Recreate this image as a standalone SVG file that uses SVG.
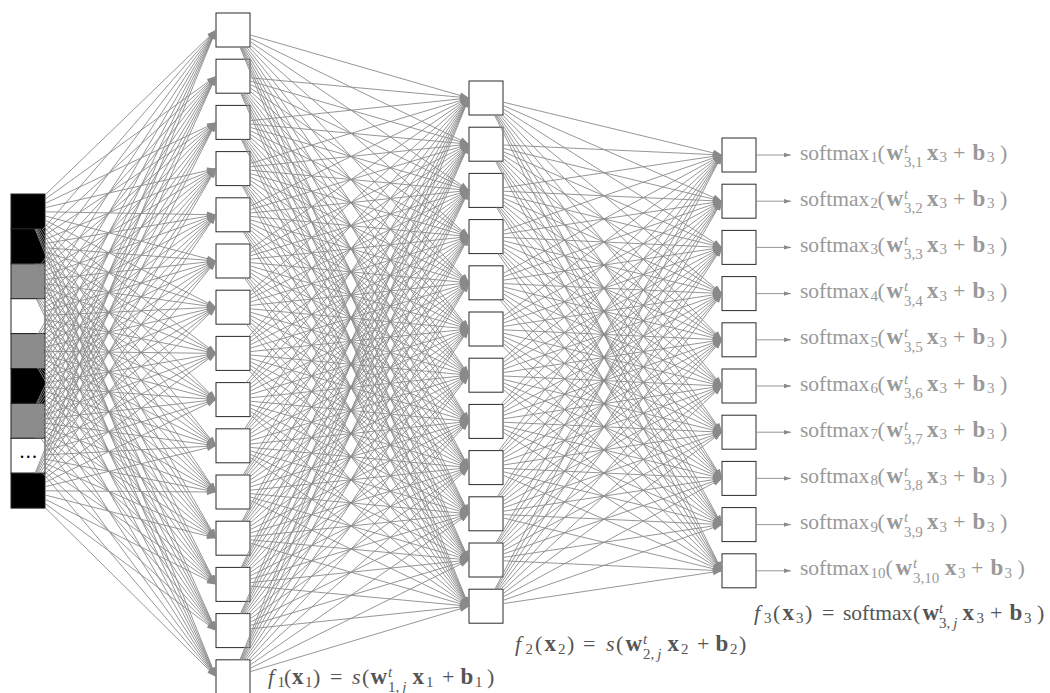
<svg xmlns="http://www.w3.org/2000/svg" width="1050" height="693" viewBox="0 0 1050 693">
<style>
.box{fill:#fff;stroke:#2a2a2a;stroke-width:1}
.cell{stroke:#222;stroke-width:1}
.e path{fill:none;stroke:#8a8a8a;stroke-width:0.9;marker-end:url(#ah)}
.o path{fill:none;stroke:#8a8a8a;stroke-width:0.9;marker-end:url(#ah2)}
text{font-family:'Liberation Serif','Times New Roman',serif}
.lab{font-size:22px;fill:#999}
.flab{font-size:22px;fill:#555}
.sm{font-size:21.5px}
.s{font-size:15px}
.b{font-weight:bold;font-size:23px}
.i{font-style:italic}
</style>
<defs>
<marker id="ah" viewBox="0 0 9 7" refX="9" refY="3.5" markerWidth="9" markerHeight="7" markerUnits="userSpaceOnUse" orient="auto" overflow="visible"><path d="M0 0.4L9 3.5L0 6.6Z" fill="#8a8a8a"/></marker>
<marker id="ah2" viewBox="0 0 7 5" refX="7" refY="2.5" markerWidth="7" markerHeight="5" markerUnits="userSpaceOnUse" orient="auto" overflow="visible"><path d="M0 0.3L7 2.5L0 4.7Z" fill="#8a8a8a"/></marker>
<clipPath id="ci1"><path clip-rule="evenodd" d="M0 0H1050V693H0ZM11 194h34v34.9H11Z"/></clipPath>
<clipPath id="ci2"><path clip-rule="evenodd" d="M0 0H1050V693H0ZM11 228.9h34v34.9H11Z"/></clipPath>
<clipPath id="ci3"><path clip-rule="evenodd" d="M0 0H1050V693H0ZM11 263.8h34v34.9H11Z"/></clipPath>
<clipPath id="ci4"><path clip-rule="evenodd" d="M0 0H1050V693H0ZM11 298.7h34v34.9H11Z"/></clipPath>
<clipPath id="ci5"><path clip-rule="evenodd" d="M0 0H1050V693H0ZM11 333.6h34v34.9H11Z"/></clipPath>
<clipPath id="ci6"><path clip-rule="evenodd" d="M0 0H1050V693H0ZM11 368.5h34v34.9H11Z"/></clipPath>
<clipPath id="ci7"><path clip-rule="evenodd" d="M0 0H1050V693H0ZM11 403.4h34v34.9H11Z"/></clipPath>
<clipPath id="ci8"><path clip-rule="evenodd" d="M0 0H1050V693H0ZM11 438.3h34v34.9H11Z"/></clipPath>
<clipPath id="ci9"><path clip-rule="evenodd" d="M0 0H1050V693H0ZM11 473.2h34v34.9H11Z"/></clipPath>
<clipPath id="cl1"><path clip-rule="evenodd" d="M0 0H1050V693H0ZM216 13h34v34H216Z"/></clipPath>
<clipPath id="cl2"><path clip-rule="evenodd" d="M0 0H1050V693H0ZM216 59.2h34v34H216Z"/></clipPath>
<clipPath id="cl3"><path clip-rule="evenodd" d="M0 0H1050V693H0ZM216 105.4h34v34H216Z"/></clipPath>
<clipPath id="cl4"><path clip-rule="evenodd" d="M0 0H1050V693H0ZM216 151.6h34v34H216Z"/></clipPath>
<clipPath id="cl5"><path clip-rule="evenodd" d="M0 0H1050V693H0ZM216 197.8h34v34H216Z"/></clipPath>
<clipPath id="cl6"><path clip-rule="evenodd" d="M0 0H1050V693H0ZM216 244h34v34H216Z"/></clipPath>
<clipPath id="cl7"><path clip-rule="evenodd" d="M0 0H1050V693H0ZM216 290.2h34v34H216Z"/></clipPath>
<clipPath id="cl8"><path clip-rule="evenodd" d="M0 0H1050V693H0ZM216 336.4h34v34H216Z"/></clipPath>
<clipPath id="cl9"><path clip-rule="evenodd" d="M0 0H1050V693H0ZM216 382.6h34v34H216Z"/></clipPath>
<clipPath id="cl10"><path clip-rule="evenodd" d="M0 0H1050V693H0ZM216 428.8h34v34H216Z"/></clipPath>
<clipPath id="cl11"><path clip-rule="evenodd" d="M0 0H1050V693H0ZM216 475h34v34H216Z"/></clipPath>
<clipPath id="cl12"><path clip-rule="evenodd" d="M0 0H1050V693H0ZM216 521.2h34v34H216Z"/></clipPath>
<clipPath id="cl13"><path clip-rule="evenodd" d="M0 0H1050V693H0ZM216 567.4h34v34H216Z"/></clipPath>
<clipPath id="cl14"><path clip-rule="evenodd" d="M0 0H1050V693H0ZM216 613.6h34v34H216Z"/></clipPath>
<clipPath id="cl15"><path clip-rule="evenodd" d="M0 0H1050V693H0ZM216 659.8h34v34H216Z"/></clipPath>
<clipPath id="cm1"><path clip-rule="evenodd" d="M0 0H1050V693H0ZM469 81h34v34H469Z"/></clipPath>
<clipPath id="cm2"><path clip-rule="evenodd" d="M0 0H1050V693H0ZM469 127.2h34v34H469Z"/></clipPath>
<clipPath id="cm3"><path clip-rule="evenodd" d="M0 0H1050V693H0ZM469 173.4h34v34H469Z"/></clipPath>
<clipPath id="cm4"><path clip-rule="evenodd" d="M0 0H1050V693H0ZM469 219.6h34v34H469Z"/></clipPath>
<clipPath id="cm5"><path clip-rule="evenodd" d="M0 0H1050V693H0ZM469 265.8h34v34H469Z"/></clipPath>
<clipPath id="cm6"><path clip-rule="evenodd" d="M0 0H1050V693H0ZM469 312h34v34H469Z"/></clipPath>
<clipPath id="cm7"><path clip-rule="evenodd" d="M0 0H1050V693H0ZM469 358.2h34v34H469Z"/></clipPath>
<clipPath id="cm8"><path clip-rule="evenodd" d="M0 0H1050V693H0ZM469 404.4h34v34H469Z"/></clipPath>
<clipPath id="cm9"><path clip-rule="evenodd" d="M0 0H1050V693H0ZM469 450.6h34v34H469Z"/></clipPath>
<clipPath id="cm10"><path clip-rule="evenodd" d="M0 0H1050V693H0ZM469 496.8h34v34H469Z"/></clipPath>
<clipPath id="cm11"><path clip-rule="evenodd" d="M0 0H1050V693H0ZM469 543h34v34H469Z"/></clipPath>
<clipPath id="cm12"><path clip-rule="evenodd" d="M0 0H1050V693H0ZM469 589.2h34v34H469Z"/></clipPath>
</defs>
<rect width="1050" height="693" fill="#fff"/>

<g id="input">
<g id="in1"><rect class="cell" x="11" y="194" width="34" height="34.9" fill="#000"/></g>
<g id="in2"><rect class="cell" x="11" y="228.9" width="34" height="34.9" fill="#000"/></g>
<g id="in3"><rect class="cell" x="11" y="263.8" width="34" height="34.9" fill="#8c8c8c"/></g>
<g id="in4"><rect class="cell" x="11" y="298.7" width="34" height="34.9" fill="#fff"/></g>
<g id="in5"><rect class="cell" x="11" y="333.6" width="34" height="34.9" fill="#8c8c8c"/></g>
<g id="in6"><rect class="cell" x="11" y="368.5" width="34" height="34.9" fill="#000"/></g>
<g id="in7"><rect class="cell" x="11" y="403.4" width="34" height="34.9" fill="#8c8c8c"/></g>
<g id="in8"><rect class="cell" x="11" y="438.3" width="34" height="34.9" fill="#fff"/><text x="19.5" y="458" style="font-size:20px;letter-spacing:1.3px" fill="#000">...</text></g>
<g id="in9"><rect class="cell" x="11" y="473.2" width="34" height="34.9" fill="#000"/></g>
</g>

<g id="layer1">
<g id="h1"><rect class="box" x="216" y="13" width="34" height="34"/></g>
<g id="h2"><rect class="box" x="216" y="59.2" width="34" height="34"/></g>
<g id="h3"><rect class="box" x="216" y="105.4" width="34" height="34"/></g>
<g id="h4"><rect class="box" x="216" y="151.6" width="34" height="34"/></g>
<g id="h5"><rect class="box" x="216" y="197.8" width="34" height="34"/></g>
<g id="h6"><rect class="box" x="216" y="244" width="34" height="34"/></g>
<g id="h7"><rect class="box" x="216" y="290.2" width="34" height="34"/></g>
<g id="h8"><rect class="box" x="216" y="336.4" width="34" height="34"/></g>
<g id="h9"><rect class="box" x="216" y="382.6" width="34" height="34"/></g>
<g id="h10"><rect class="box" x="216" y="428.8" width="34" height="34"/></g>
<g id="h11"><rect class="box" x="216" y="475" width="34" height="34"/></g>
<g id="h12"><rect class="box" x="216" y="521.2" width="34" height="34"/></g>
<g id="h13"><rect class="box" x="216" y="567.4" width="34" height="34"/></g>
<g id="h14"><rect class="box" x="216" y="613.6" width="34" height="34"/></g>
<g id="h15"><rect class="box" x="216" y="659.8" width="34" height="34"/></g>
</g>

<g id="layer2">
<g id="m1"><rect class="box" x="469" y="81" width="34" height="34"/></g>
<g id="m2"><rect class="box" x="469" y="127.2" width="34" height="34"/></g>
<g id="m3"><rect class="box" x="469" y="173.4" width="34" height="34"/></g>
<g id="m4"><rect class="box" x="469" y="219.6" width="34" height="34"/></g>
<g id="m5"><rect class="box" x="469" y="265.8" width="34" height="34"/></g>
<g id="m6"><rect class="box" x="469" y="312" width="34" height="34"/></g>
<g id="m7"><rect class="box" x="469" y="358.2" width="34" height="34"/></g>
<g id="m8"><rect class="box" x="469" y="404.4" width="34" height="34"/></g>
<g id="m9"><rect class="box" x="469" y="450.6" width="34" height="34"/></g>
<g id="m10"><rect class="box" x="469" y="496.8" width="34" height="34"/></g>
<g id="m11"><rect class="box" x="469" y="543" width="34" height="34"/></g>
<g id="m12"><rect class="box" x="469" y="589.2" width="34" height="34"/></g>
</g>

<g id="layer3">
<g id="o1"><rect class="box" x="722" y="138" width="34" height="34"/></g>
<g id="o2"><rect class="box" x="722" y="184.2" width="34" height="34"/></g>
<g id="o3"><rect class="box" x="722" y="230.4" width="34" height="34"/></g>
<g id="o4"><rect class="box" x="722" y="276.6" width="34" height="34"/></g>
<g id="o5"><rect class="box" x="722" y="322.8" width="34" height="34"/></g>
<g id="o6"><rect class="box" x="722" y="369" width="34" height="34"/></g>
<g id="o7"><rect class="box" x="722" y="415.2" width="34" height="34"/></g>
<g id="o8"><rect class="box" x="722" y="461.4" width="34" height="34"/></g>
<g id="o9"><rect class="box" x="722" y="507.6" width="34" height="34"/></g>
<g id="o10"><rect class="box" x="722" y="553.8" width="34" height="34"/></g>
</g>

<g id="connectors">
<g class="e">
<g clip-path="url(#ci1)"><path d="M28 211.5L216 30"/><path d="M28 211.5L216 76.2"/><path d="M28 211.5L216 122.4"/><path d="M28 211.5L216 168.6"/><path d="M28 211.5L216 214.8"/><path d="M28 211.5L216 261"/><path d="M28 211.5L216 307.2"/><path d="M28 211.5L216 353.4"/><path d="M28 211.5L216 399.6"/><path d="M28 211.5L216 445.8"/><path d="M28 211.5L216 492"/><path d="M28 211.5L216 538.2"/><path d="M28 211.5L216 584.4"/><path d="M28 211.5L216 630.6"/><path d="M28 211.5L216 676.8"/></g>
<g clip-path="url(#ci2)"><path d="M28 246.4L216 30"/><path d="M28 246.4L216 76.2"/><path d="M28 246.4L216 122.4"/><path d="M28 246.4L216 168.6"/><path d="M28 246.4L216 214.8"/><path d="M28 246.4L216 261"/><path d="M28 246.4L216 307.2"/><path d="M28 246.4L216 353.4"/><path d="M28 246.4L216 399.6"/><path d="M28 246.4L216 445.8"/><path d="M28 246.4L216 492"/><path d="M28 246.4L216 538.2"/><path d="M28 246.4L216 584.4"/><path d="M28 246.4L216 630.6"/><path d="M28 246.4L216 676.8"/></g>
<g clip-path="url(#ci3)"><path d="M28 281.3L216 30"/><path d="M28 281.3L216 76.2"/><path d="M28 281.3L216 122.4"/><path d="M28 281.3L216 168.6"/><path d="M28 281.3L216 214.8"/><path d="M28 281.3L216 261"/><path d="M28 281.3L216 307.2"/><path d="M28 281.3L216 353.4"/><path d="M28 281.3L216 399.6"/><path d="M28 281.3L216 445.8"/><path d="M28 281.3L216 492"/><path d="M28 281.3L216 538.2"/><path d="M28 281.3L216 584.4"/><path d="M28 281.3L216 630.6"/><path d="M28 281.3L216 676.8"/></g>
<g clip-path="url(#ci4)"><path d="M28 316.2L216 30"/><path d="M28 316.2L216 76.2"/><path d="M28 316.2L216 122.4"/><path d="M28 316.2L216 168.6"/><path d="M28 316.2L216 214.8"/><path d="M28 316.2L216 261"/><path d="M28 316.2L216 307.2"/><path d="M28 316.2L216 353.4"/><path d="M28 316.2L216 399.6"/><path d="M28 316.2L216 445.8"/><path d="M28 316.2L216 492"/><path d="M28 316.2L216 538.2"/><path d="M28 316.2L216 584.4"/><path d="M28 316.2L216 630.6"/><path d="M28 316.2L216 676.8"/></g>
<g clip-path="url(#ci5)"><path d="M28 351.1L216 30"/><path d="M28 351.1L216 76.2"/><path d="M28 351.1L216 122.4"/><path d="M28 351.1L216 168.6"/><path d="M28 351.1L216 214.8"/><path d="M28 351.1L216 261"/><path d="M28 351.1L216 307.2"/><path d="M28 351.1L216 353.4"/><path d="M28 351.1L216 399.6"/><path d="M28 351.1L216 445.8"/><path d="M28 351.1L216 492"/><path d="M28 351.1L216 538.2"/><path d="M28 351.1L216 584.4"/><path d="M28 351.1L216 630.6"/><path d="M28 351.1L216 676.8"/></g>
<g clip-path="url(#ci6)"><path d="M28 386L216 30"/><path d="M28 386L216 76.2"/><path d="M28 386L216 122.4"/><path d="M28 386L216 168.6"/><path d="M28 386L216 214.8"/><path d="M28 386L216 261"/><path d="M28 386L216 307.2"/><path d="M28 386L216 353.4"/><path d="M28 386L216 399.6"/><path d="M28 386L216 445.8"/><path d="M28 386L216 492"/><path d="M28 386L216 538.2"/><path d="M28 386L216 584.4"/><path d="M28 386L216 630.6"/><path d="M28 386L216 676.8"/></g>
<g clip-path="url(#ci7)"><path d="M28 420.9L216 30"/><path d="M28 420.9L216 76.2"/><path d="M28 420.9L216 122.4"/><path d="M28 420.9L216 168.6"/><path d="M28 420.9L216 214.8"/><path d="M28 420.9L216 261"/><path d="M28 420.9L216 307.2"/><path d="M28 420.9L216 353.4"/><path d="M28 420.9L216 399.6"/><path d="M28 420.9L216 445.8"/><path d="M28 420.9L216 492"/><path d="M28 420.9L216 538.2"/><path d="M28 420.9L216 584.4"/><path d="M28 420.9L216 630.6"/><path d="M28 420.9L216 676.8"/></g>
<g clip-path="url(#ci8)"><path d="M28 455.8L216 30"/><path d="M28 455.8L216 76.2"/><path d="M28 455.8L216 122.4"/><path d="M28 455.8L216 168.6"/><path d="M28 455.8L216 214.8"/><path d="M28 455.8L216 261"/><path d="M28 455.8L216 307.2"/><path d="M28 455.8L216 353.4"/><path d="M28 455.8L216 399.6"/><path d="M28 455.8L216 445.8"/><path d="M28 455.8L216 492"/><path d="M28 455.8L216 538.2"/><path d="M28 455.8L216 584.4"/><path d="M28 455.8L216 630.6"/><path d="M28 455.8L216 676.8"/></g>
<g clip-path="url(#ci9)"><path d="M28 490.7L216 30"/><path d="M28 490.7L216 76.2"/><path d="M28 490.7L216 122.4"/><path d="M28 490.7L216 168.6"/><path d="M28 490.7L216 214.8"/><path d="M28 490.7L216 261"/><path d="M28 490.7L216 307.2"/><path d="M28 490.7L216 353.4"/><path d="M28 490.7L216 399.6"/><path d="M28 490.7L216 445.8"/><path d="M28 490.7L216 492"/><path d="M28 490.7L216 538.2"/><path d="M28 490.7L216 584.4"/><path d="M28 490.7L216 630.6"/><path d="M28 490.7L216 676.8"/></g>

<g clip-path="url(#cl1)"><path d="M233 30L469 98"/><path d="M233 30L469 144.2"/><path d="M233 30L469 190.4"/><path d="M233 30L469 236.6"/><path d="M233 30L469 282.8"/><path d="M233 30L469 329"/><path d="M233 30L469 375.2"/><path d="M233 30L469 421.4"/><path d="M233 30L469 467.6"/><path d="M233 30L469 513.8"/><path d="M233 30L469 560"/><path d="M233 30L469 606.2"/></g>
<g clip-path="url(#cl2)"><path d="M233 76.2L469 98"/><path d="M233 76.2L469 144.2"/><path d="M233 76.2L469 190.4"/><path d="M233 76.2L469 236.6"/><path d="M233 76.2L469 282.8"/><path d="M233 76.2L469 329"/><path d="M233 76.2L469 375.2"/><path d="M233 76.2L469 421.4"/><path d="M233 76.2L469 467.6"/><path d="M233 76.2L469 513.8"/><path d="M233 76.2L469 560"/><path d="M233 76.2L469 606.2"/></g>
<g clip-path="url(#cl3)"><path d="M233 122.4L469 98"/><path d="M233 122.4L469 144.2"/><path d="M233 122.4L469 190.4"/><path d="M233 122.4L469 236.6"/><path d="M233 122.4L469 282.8"/><path d="M233 122.4L469 329"/><path d="M233 122.4L469 375.2"/><path d="M233 122.4L469 421.4"/><path d="M233 122.4L469 467.6"/><path d="M233 122.4L469 513.8"/><path d="M233 122.4L469 560"/><path d="M233 122.4L469 606.2"/></g>
<g clip-path="url(#cl4)"><path d="M233 168.6L469 98"/><path d="M233 168.6L469 144.2"/><path d="M233 168.6L469 190.4"/><path d="M233 168.6L469 236.6"/><path d="M233 168.6L469 282.8"/><path d="M233 168.6L469 329"/><path d="M233 168.6L469 375.2"/><path d="M233 168.6L469 421.4"/><path d="M233 168.6L469 467.6"/><path d="M233 168.6L469 513.8"/><path d="M233 168.6L469 560"/><path d="M233 168.6L469 606.2"/></g>
<g clip-path="url(#cl5)"><path d="M233 214.8L469 98"/><path d="M233 214.8L469 144.2"/><path d="M233 214.8L469 190.4"/><path d="M233 214.8L469 236.6"/><path d="M233 214.8L469 282.8"/><path d="M233 214.8L469 329"/><path d="M233 214.8L469 375.2"/><path d="M233 214.8L469 421.4"/><path d="M233 214.8L469 467.6"/><path d="M233 214.8L469 513.8"/><path d="M233 214.8L469 560"/><path d="M233 214.8L469 606.2"/></g>
<g clip-path="url(#cl6)"><path d="M233 261L469 98"/><path d="M233 261L469 144.2"/><path d="M233 261L469 190.4"/><path d="M233 261L469 236.6"/><path d="M233 261L469 282.8"/><path d="M233 261L469 329"/><path d="M233 261L469 375.2"/><path d="M233 261L469 421.4"/><path d="M233 261L469 467.6"/><path d="M233 261L469 513.8"/><path d="M233 261L469 560"/><path d="M233 261L469 606.2"/></g>
<g clip-path="url(#cl7)"><path d="M233 307.2L469 98"/><path d="M233 307.2L469 144.2"/><path d="M233 307.2L469 190.4"/><path d="M233 307.2L469 236.6"/><path d="M233 307.2L469 282.8"/><path d="M233 307.2L469 329"/><path d="M233 307.2L469 375.2"/><path d="M233 307.2L469 421.4"/><path d="M233 307.2L469 467.6"/><path d="M233 307.2L469 513.8"/><path d="M233 307.2L469 560"/><path d="M233 307.2L469 606.2"/></g>
<g clip-path="url(#cl8)"><path d="M233 353.4L469 98"/><path d="M233 353.4L469 144.2"/><path d="M233 353.4L469 190.4"/><path d="M233 353.4L469 236.6"/><path d="M233 353.4L469 282.8"/><path d="M233 353.4L469 329"/><path d="M233 353.4L469 375.2"/><path d="M233 353.4L469 421.4"/><path d="M233 353.4L469 467.6"/><path d="M233 353.4L469 513.8"/><path d="M233 353.4L469 560"/><path d="M233 353.4L469 606.2"/></g>
<g clip-path="url(#cl9)"><path d="M233 399.6L469 98"/><path d="M233 399.6L469 144.2"/><path d="M233 399.6L469 190.4"/><path d="M233 399.6L469 236.6"/><path d="M233 399.6L469 282.8"/><path d="M233 399.6L469 329"/><path d="M233 399.6L469 375.2"/><path d="M233 399.6L469 421.4"/><path d="M233 399.6L469 467.6"/><path d="M233 399.6L469 513.8"/><path d="M233 399.6L469 560"/><path d="M233 399.6L469 606.2"/></g>
<g clip-path="url(#cl10)"><path d="M233 445.8L469 98"/><path d="M233 445.8L469 144.2"/><path d="M233 445.8L469 190.4"/><path d="M233 445.8L469 236.6"/><path d="M233 445.8L469 282.8"/><path d="M233 445.8L469 329"/><path d="M233 445.8L469 375.2"/><path d="M233 445.8L469 421.4"/><path d="M233 445.8L469 467.6"/><path d="M233 445.8L469 513.8"/><path d="M233 445.8L469 560"/><path d="M233 445.8L469 606.2"/></g>
<g clip-path="url(#cl11)"><path d="M233 492L469 98"/><path d="M233 492L469 144.2"/><path d="M233 492L469 190.4"/><path d="M233 492L469 236.6"/><path d="M233 492L469 282.8"/><path d="M233 492L469 329"/><path d="M233 492L469 375.2"/><path d="M233 492L469 421.4"/><path d="M233 492L469 467.6"/><path d="M233 492L469 513.8"/><path d="M233 492L469 560"/><path d="M233 492L469 606.2"/></g>
<g clip-path="url(#cl12)"><path d="M233 538.2L469 98"/><path d="M233 538.2L469 144.2"/><path d="M233 538.2L469 190.4"/><path d="M233 538.2L469 236.6"/><path d="M233 538.2L469 282.8"/><path d="M233 538.2L469 329"/><path d="M233 538.2L469 375.2"/><path d="M233 538.2L469 421.4"/><path d="M233 538.2L469 467.6"/><path d="M233 538.2L469 513.8"/><path d="M233 538.2L469 560"/><path d="M233 538.2L469 606.2"/></g>
<g clip-path="url(#cl13)"><path d="M233 584.4L469 98"/><path d="M233 584.4L469 144.2"/><path d="M233 584.4L469 190.4"/><path d="M233 584.4L469 236.6"/><path d="M233 584.4L469 282.8"/><path d="M233 584.4L469 329"/><path d="M233 584.4L469 375.2"/><path d="M233 584.4L469 421.4"/><path d="M233 584.4L469 467.6"/><path d="M233 584.4L469 513.8"/><path d="M233 584.4L469 560"/><path d="M233 584.4L469 606.2"/></g>
<g clip-path="url(#cl14)"><path d="M233 630.6L469 98"/><path d="M233 630.6L469 144.2"/><path d="M233 630.6L469 190.4"/><path d="M233 630.6L469 236.6"/><path d="M233 630.6L469 282.8"/><path d="M233 630.6L469 329"/><path d="M233 630.6L469 375.2"/><path d="M233 630.6L469 421.4"/><path d="M233 630.6L469 467.6"/><path d="M233 630.6L469 513.8"/><path d="M233 630.6L469 560"/><path d="M233 630.6L469 606.2"/></g>
<g clip-path="url(#cl15)"><path d="M233 676.8L469 98"/><path d="M233 676.8L469 144.2"/><path d="M233 676.8L469 190.4"/><path d="M233 676.8L469 236.6"/><path d="M233 676.8L469 282.8"/><path d="M233 676.8L469 329"/><path d="M233 676.8L469 375.2"/><path d="M233 676.8L469 421.4"/><path d="M233 676.8L469 467.6"/><path d="M233 676.8L469 513.8"/><path d="M233 676.8L469 560"/><path d="M233 676.8L469 606.2"/></g>

<g clip-path="url(#cm1)"><path d="M486 98L722 155"/><path d="M486 98L722 201.2"/><path d="M486 98L722 247.4"/><path d="M486 98L722 293.6"/><path d="M486 98L722 339.8"/><path d="M486 98L722 386"/><path d="M486 98L722 432.2"/><path d="M486 98L722 478.4"/><path d="M486 98L722 524.6"/><path d="M486 98L722 570.8"/></g>
<g clip-path="url(#cm2)"><path d="M486 144.2L722 155"/><path d="M486 144.2L722 201.2"/><path d="M486 144.2L722 247.4"/><path d="M486 144.2L722 293.6"/><path d="M486 144.2L722 339.8"/><path d="M486 144.2L722 386"/><path d="M486 144.2L722 432.2"/><path d="M486 144.2L722 478.4"/><path d="M486 144.2L722 524.6"/><path d="M486 144.2L722 570.8"/></g>
<g clip-path="url(#cm3)"><path d="M486 190.4L722 155"/><path d="M486 190.4L722 201.2"/><path d="M486 190.4L722 247.4"/><path d="M486 190.4L722 293.6"/><path d="M486 190.4L722 339.8"/><path d="M486 190.4L722 386"/><path d="M486 190.4L722 432.2"/><path d="M486 190.4L722 478.4"/><path d="M486 190.4L722 524.6"/><path d="M486 190.4L722 570.8"/></g>
<g clip-path="url(#cm4)"><path d="M486 236.6L722 155"/><path d="M486 236.6L722 201.2"/><path d="M486 236.6L722 247.4"/><path d="M486 236.6L722 293.6"/><path d="M486 236.6L722 339.8"/><path d="M486 236.6L722 386"/><path d="M486 236.6L722 432.2"/><path d="M486 236.6L722 478.4"/><path d="M486 236.6L722 524.6"/><path d="M486 236.6L722 570.8"/></g>
<g clip-path="url(#cm5)"><path d="M486 282.8L722 155"/><path d="M486 282.8L722 201.2"/><path d="M486 282.8L722 247.4"/><path d="M486 282.8L722 293.6"/><path d="M486 282.8L722 339.8"/><path d="M486 282.8L722 386"/><path d="M486 282.8L722 432.2"/><path d="M486 282.8L722 478.4"/><path d="M486 282.8L722 524.6"/><path d="M486 282.8L722 570.8"/></g>
<g clip-path="url(#cm6)"><path d="M486 329L722 155"/><path d="M486 329L722 201.2"/><path d="M486 329L722 247.4"/><path d="M486 329L722 293.6"/><path d="M486 329L722 339.8"/><path d="M486 329L722 386"/><path d="M486 329L722 432.2"/><path d="M486 329L722 478.4"/><path d="M486 329L722 524.6"/><path d="M486 329L722 570.8"/></g>
<g clip-path="url(#cm7)"><path d="M486 375.2L722 155"/><path d="M486 375.2L722 201.2"/><path d="M486 375.2L722 247.4"/><path d="M486 375.2L722 293.6"/><path d="M486 375.2L722 339.8"/><path d="M486 375.2L722 386"/><path d="M486 375.2L722 432.2"/><path d="M486 375.2L722 478.4"/><path d="M486 375.2L722 524.6"/><path d="M486 375.2L722 570.8"/></g>
<g clip-path="url(#cm8)"><path d="M486 421.4L722 155"/><path d="M486 421.4L722 201.2"/><path d="M486 421.4L722 247.4"/><path d="M486 421.4L722 293.6"/><path d="M486 421.4L722 339.8"/><path d="M486 421.4L722 386"/><path d="M486 421.4L722 432.2"/><path d="M486 421.4L722 478.4"/><path d="M486 421.4L722 524.6"/><path d="M486 421.4L722 570.8"/></g>
<g clip-path="url(#cm9)"><path d="M486 467.6L722 155"/><path d="M486 467.6L722 201.2"/><path d="M486 467.6L722 247.4"/><path d="M486 467.6L722 293.6"/><path d="M486 467.6L722 339.8"/><path d="M486 467.6L722 386"/><path d="M486 467.6L722 432.2"/><path d="M486 467.6L722 478.4"/><path d="M486 467.6L722 524.6"/><path d="M486 467.6L722 570.8"/></g>
<g clip-path="url(#cm10)"><path d="M486 513.8L722 155"/><path d="M486 513.8L722 201.2"/><path d="M486 513.8L722 247.4"/><path d="M486 513.8L722 293.6"/><path d="M486 513.8L722 339.8"/><path d="M486 513.8L722 386"/><path d="M486 513.8L722 432.2"/><path d="M486 513.8L722 478.4"/><path d="M486 513.8L722 524.6"/><path d="M486 513.8L722 570.8"/></g>
<g clip-path="url(#cm11)"><path d="M486 560L722 155"/><path d="M486 560L722 201.2"/><path d="M486 560L722 247.4"/><path d="M486 560L722 293.6"/><path d="M486 560L722 339.8"/><path d="M486 560L722 386"/><path d="M486 560L722 432.2"/><path d="M486 560L722 478.4"/><path d="M486 560L722 524.6"/><path d="M486 560L722 570.8"/></g>
<g clip-path="url(#cm12)"><path d="M486 606.2L722 155"/><path d="M486 606.2L722 201.2"/><path d="M486 606.2L722 247.4"/><path d="M486 606.2L722 293.6"/><path d="M486 606.2L722 339.8"/><path d="M486 606.2L722 386"/><path d="M486 606.2L722 432.2"/><path d="M486 606.2L722 478.4"/><path d="M486 606.2L722 524.6"/><path d="M486 606.2L722 570.8"/></g>
</g>
<g class="o">
<path d="M756 155H791"/><path d="M756 201.2H791"/><path d="M756 247.4H791"/><path d="M756 293.6H791"/><path d="M756 339.8H791"/><path d="M756 386H791"/><path d="M756 432.2H791"/><path d="M756 478.4H791"/><path d="M756 524.6H791"/><path d="M756 570.8H791"/>
</g>
</g>

<g id="outputs">
<g><text class="lab"><tspan class="sm" x="800" y="159.5">softmax</tspan><tspan class="s" x="870.5" y="162">1</tspan><tspan x="877.5" y="159.5">(</tspan><tspan class="b" x="886.5">w</tspan><tspan class="s i" x="904" y="152.5">t</tspan><tspan class="s" x="904" y="167">3,1</tspan><tspan class="b" x="927" y="159.5">x</tspan><tspan class="s" x="939.5" y="162">3</tspan><tspan x="953" y="159.5">+</tspan><tspan class="b" x="972.5">b</tspan><tspan class="s" x="987" y="162">3</tspan><tspan x="1000" y="159.5">)</tspan></text></g>
<g transform="translate(0,46.2)"><text class="lab"><tspan class="sm" x="800" y="159.5">softmax</tspan><tspan class="s" x="870.5" y="162">2</tspan><tspan x="877.5" y="159.5">(</tspan><tspan class="b" x="886.5">w</tspan><tspan class="s i" x="904" y="152.5">t</tspan><tspan class="s" x="904" y="167">3,2</tspan><tspan class="b" x="927" y="159.5">x</tspan><tspan class="s" x="939.5" y="162">3</tspan><tspan x="953" y="159.5">+</tspan><tspan class="b" x="972.5">b</tspan><tspan class="s" x="987" y="162">3</tspan><tspan x="1000" y="159.5">)</tspan></text></g>
<g transform="translate(0,92.4)"><text class="lab"><tspan class="sm" x="800" y="159.5">softmax</tspan><tspan class="s" x="870.5" y="162">3</tspan><tspan x="877.5" y="159.5">(</tspan><tspan class="b" x="886.5">w</tspan><tspan class="s i" x="904" y="152.5">t</tspan><tspan class="s" x="904" y="167">3,3</tspan><tspan class="b" x="927" y="159.5">x</tspan><tspan class="s" x="939.5" y="162">3</tspan><tspan x="953" y="159.5">+</tspan><tspan class="b" x="972.5">b</tspan><tspan class="s" x="987" y="162">3</tspan><tspan x="1000" y="159.5">)</tspan></text></g>
<g transform="translate(0,138.6)"><text class="lab"><tspan class="sm" x="800" y="159.5">softmax</tspan><tspan class="s" x="870.5" y="162">4</tspan><tspan x="877.5" y="159.5">(</tspan><tspan class="b" x="886.5">w</tspan><tspan class="s i" x="904" y="152.5">t</tspan><tspan class="s" x="904" y="167">3,4</tspan><tspan class="b" x="927" y="159.5">x</tspan><tspan class="s" x="939.5" y="162">3</tspan><tspan x="953" y="159.5">+</tspan><tspan class="b" x="972.5">b</tspan><tspan class="s" x="987" y="162">3</tspan><tspan x="1000" y="159.5">)</tspan></text></g>
<g transform="translate(0,184.8)"><text class="lab"><tspan class="sm" x="800" y="159.5">softmax</tspan><tspan class="s" x="870.5" y="162">5</tspan><tspan x="877.5" y="159.5">(</tspan><tspan class="b" x="886.5">w</tspan><tspan class="s i" x="904" y="152.5">t</tspan><tspan class="s" x="904" y="167">3,5</tspan><tspan class="b" x="927" y="159.5">x</tspan><tspan class="s" x="939.5" y="162">3</tspan><tspan x="953" y="159.5">+</tspan><tspan class="b" x="972.5">b</tspan><tspan class="s" x="987" y="162">3</tspan><tspan x="1000" y="159.5">)</tspan></text></g>
<g transform="translate(0,231)"><text class="lab"><tspan class="sm" x="800" y="159.5">softmax</tspan><tspan class="s" x="870.5" y="162">6</tspan><tspan x="877.5" y="159.5">(</tspan><tspan class="b" x="886.5">w</tspan><tspan class="s i" x="904" y="152.5">t</tspan><tspan class="s" x="904" y="167">3,6</tspan><tspan class="b" x="927" y="159.5">x</tspan><tspan class="s" x="939.5" y="162">3</tspan><tspan x="953" y="159.5">+</tspan><tspan class="b" x="972.5">b</tspan><tspan class="s" x="987" y="162">3</tspan><tspan x="1000" y="159.5">)</tspan></text></g>
<g transform="translate(0,277.2)"><text class="lab"><tspan class="sm" x="800" y="159.5">softmax</tspan><tspan class="s" x="870.5" y="162">7</tspan><tspan x="877.5" y="159.5">(</tspan><tspan class="b" x="886.5">w</tspan><tspan class="s i" x="904" y="152.5">t</tspan><tspan class="s" x="904" y="167">3,7</tspan><tspan class="b" x="927" y="159.5">x</tspan><tspan class="s" x="939.5" y="162">3</tspan><tspan x="953" y="159.5">+</tspan><tspan class="b" x="972.5">b</tspan><tspan class="s" x="987" y="162">3</tspan><tspan x="1000" y="159.5">)</tspan></text></g>
<g transform="translate(0,323.4)"><text class="lab"><tspan class="sm" x="800" y="159.5">softmax</tspan><tspan class="s" x="870.5" y="162">8</tspan><tspan x="877.5" y="159.5">(</tspan><tspan class="b" x="886.5">w</tspan><tspan class="s i" x="904" y="152.5">t</tspan><tspan class="s" x="904" y="167">3,8</tspan><tspan class="b" x="927" y="159.5">x</tspan><tspan class="s" x="939.5" y="162">3</tspan><tspan x="953" y="159.5">+</tspan><tspan class="b" x="972.5">b</tspan><tspan class="s" x="987" y="162">3</tspan><tspan x="1000" y="159.5">)</tspan></text></g>
<g transform="translate(0,369.6)"><text class="lab"><tspan class="sm" x="800" y="159.5">softmax</tspan><tspan class="s" x="870.5" y="162">9</tspan><tspan x="877.5" y="159.5">(</tspan><tspan class="b" x="886.5">w</tspan><tspan class="s i" x="904" y="152.5">t</tspan><tspan class="s" x="904" y="167">3,9</tspan><tspan class="b" x="927" y="159.5">x</tspan><tspan class="s" x="939.5" y="162">3</tspan><tspan x="953" y="159.5">+</tspan><tspan class="b" x="972.5">b</tspan><tspan class="s" x="987" y="162">3</tspan><tspan x="1000" y="159.5">)</tspan></text></g>
<g transform="translate(0,415.8)"><text class="lab"><tspan class="sm" x="800" y="159.5">softmax</tspan><tspan class="s" x="870.5" y="162">10</tspan><tspan x="885.5" y="159.5">(</tspan><tspan class="b" x="895.5">w</tspan><tspan class="s i" x="913" y="152.5">t</tspan><tspan class="s" x="913" y="167">3,10</tspan><tspan class="b" x="945" y="159.5">x</tspan><tspan class="s" x="958" y="162">3</tspan><tspan x="971" y="159.5">+</tspan><tspan class="b" x="990.5">b</tspan><tspan class="s" x="1004.5" y="162">3</tspan><tspan x="1017.5" y="159.5">)</tspan></text></g>
</g>

<g id="labels">
<text class="flab"><tspan class="i" x="268" y="684">f</tspan><tspan class="s" x="277.5" y="687">1</tspan><tspan x="284" y="684">(</tspan><tspan class="b" x="292">x</tspan><tspan class="s" x="305" y="687">1</tspan><tspan x="313" y="684">)</tspan><tspan x="330">=</tspan><tspan class="i" x="352">s</tspan><tspan x="362">(</tspan><tspan class="b" x="370.5">w</tspan><tspan class="s i" x="388" y="677">t</tspan><tspan class="s" x="388" y="691.5">1,<tspan class="i" dx="3">j</tspan></tspan><tspan class="b" x="412.5" y="684">x</tspan><tspan class="s" x="426" y="687">1</tspan><tspan x="442" y="684">+</tspan><tspan class="b" x="460.5">b</tspan><tspan class="s" x="475" y="687">1</tspan><tspan x="487" y="684">)</tspan></text>
<text class="flab"><tspan class="i" x="515" y="651">f</tspan><tspan class="s" x="525.5" y="654">2</tspan><tspan x="535" y="651">(</tspan><tspan class="b" x="544.5">x</tspan><tspan class="s" x="558" y="654">2</tspan><tspan x="567" y="651">)</tspan><tspan x="583">=</tspan><tspan class="i" x="606">s</tspan><tspan x="616">(</tspan><tspan class="b" x="625.5">w</tspan><tspan class="s i" x="643" y="644">t</tspan><tspan class="s" x="643" y="658.5">2,<tspan class="i" dx="3">j</tspan></tspan><tspan class="b" x="667.5" y="651">x</tspan><tspan class="s" x="681" y="654">2</tspan><tspan x="697" y="651">+</tspan><tspan class="b" x="715.5">b</tspan><tspan class="s" x="730" y="654">2</tspan><tspan x="739" y="651">)</tspan></text>
<text class="flab"><tspan class="i" x="754" y="620">f</tspan><tspan class="s" x="764" y="623">3</tspan><tspan x="773" y="620">(</tspan><tspan class="b" x="782.5">x</tspan><tspan class="s" x="796" y="623">3</tspan><tspan x="805" y="620">)</tspan><tspan x="822">=</tspan><tspan class="sm" x="843">softmax</tspan><tspan x="913">(</tspan><tspan class="b" x="922.5">w</tspan><tspan class="s i" x="939" y="613">t</tspan><tspan class="s" x="939" y="627.5">3,<tspan class="i" dx="3">j</tspan></tspan><tspan class="b" x="962.5" y="620">x</tspan><tspan class="s" x="976.5" y="623">3</tspan><tspan x="990" y="620">+</tspan><tspan class="b" x="1009.5">b</tspan><tspan class="s" x="1024" y="623">3</tspan><tspan x="1037" y="620">)</tspan></text>
</g>
</svg>
